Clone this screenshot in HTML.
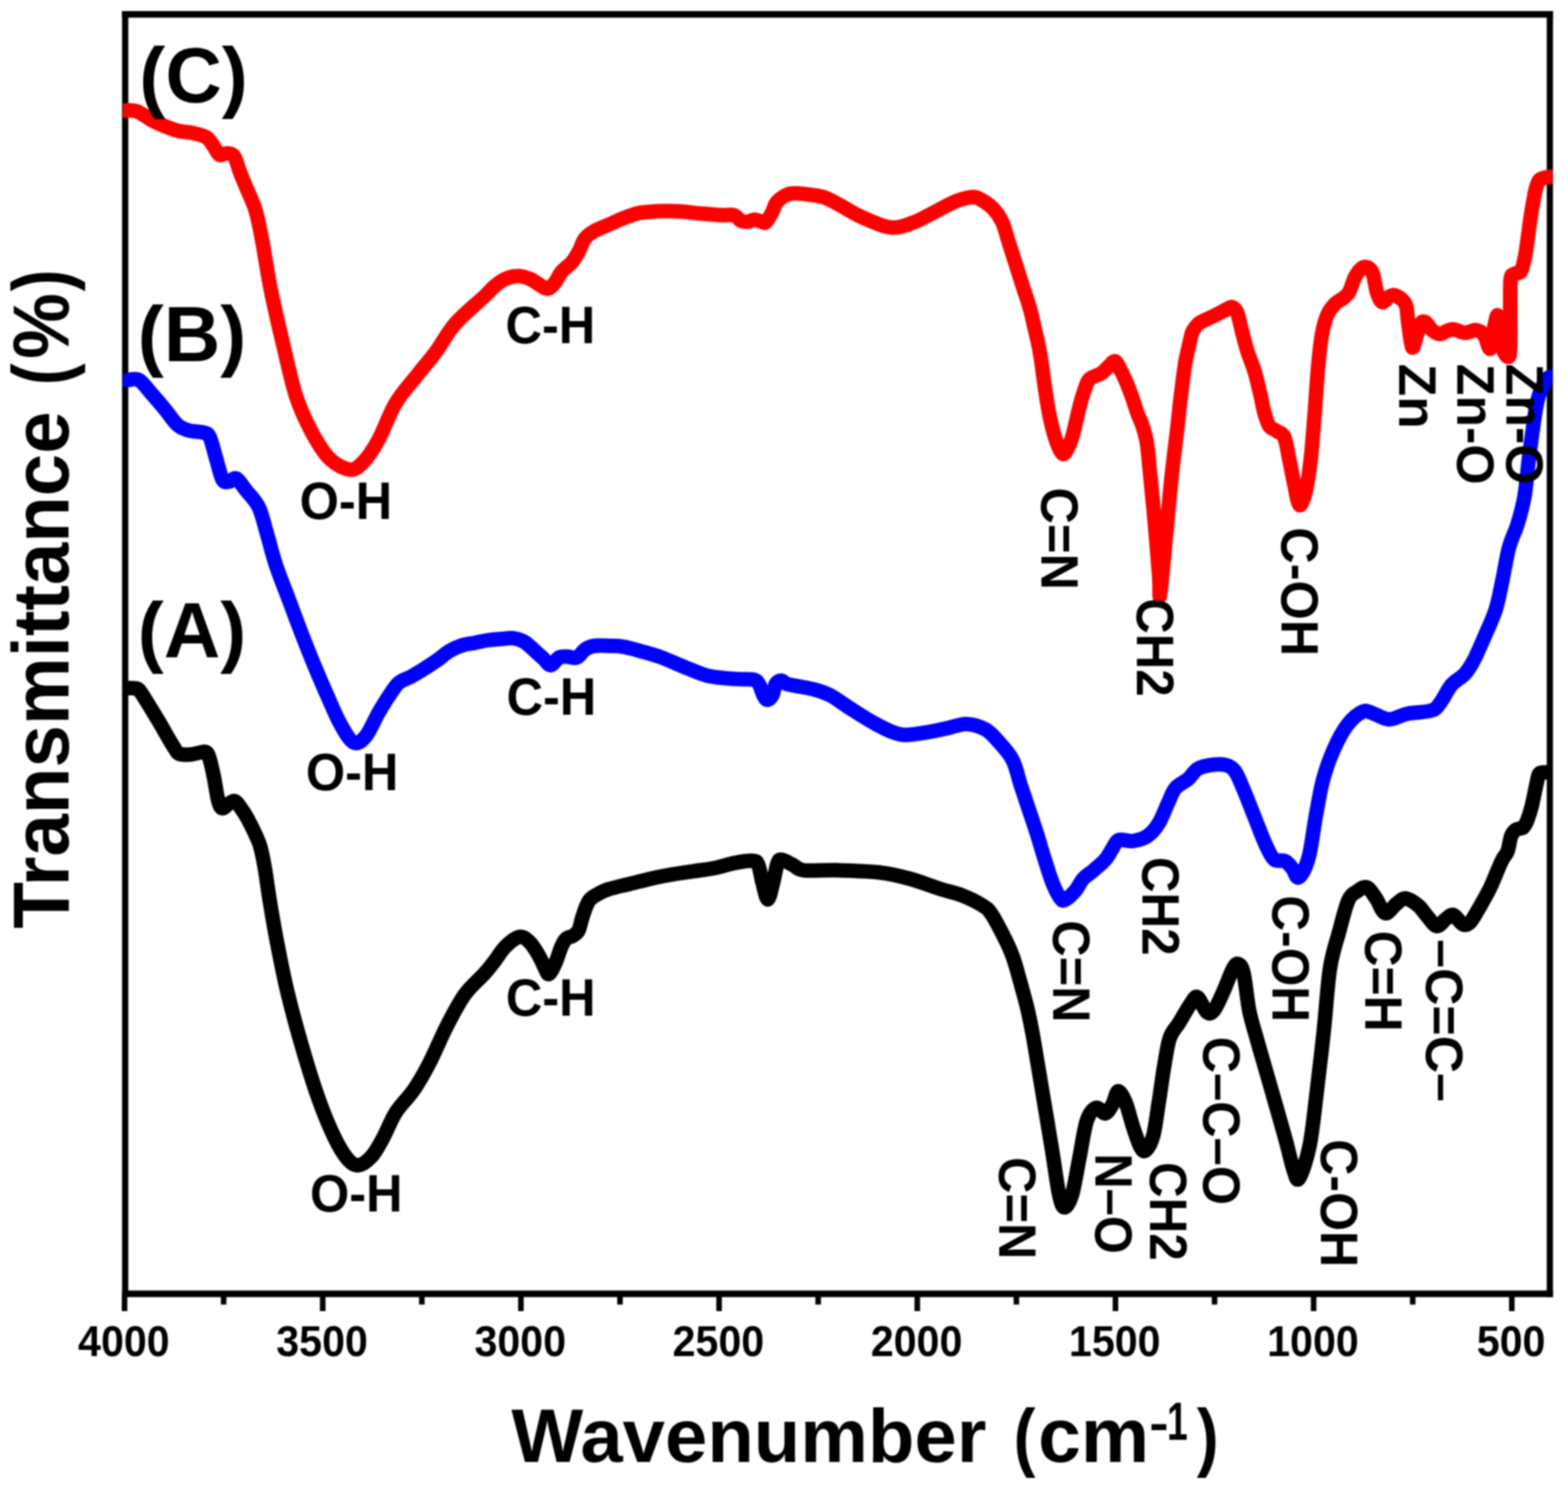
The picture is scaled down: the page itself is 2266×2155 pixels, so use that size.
<!DOCTYPE html><html><head><meta charset="utf-8"><title>FTIR spectra</title><style>html,body{margin:0;padding:0;background:#fff;}body{width:2266px;height:2155px;overflow:hidden;}svg{display:block;filter:blur(0.8px);}text{font-family:"Liberation Sans",Arial,sans-serif;font-weight:bold;fill:#000;}</style></head><body>
<svg xmlns="http://www.w3.org/2000/svg" width="2266" height="2155" viewBox="0 0 2266 2155">
<rect width="2266" height="2155" fill="#fff"/>
<defs><clipPath id="pa"><rect x="177.5" y="20.8" width="2066.0" height="1849.1"/></clipPath></defs>
<g stroke="#000" fill="none"><line x1="176.40" y1="20.80" x2="2244.30" y2="20.80" stroke-width="9.50"/><line x1="176.40" y1="1869.90" x2="2244.30" y2="1869.90" stroke-width="9.50"/><line x1="180.90" y1="16.05" x2="180.90" y2="1874.65" stroke-width="9.00"/><line x1="2239.80" y1="16.05" x2="2239.80" y2="1874.65" stroke-width="9.00"/></g>
<g stroke="#000" stroke-width="8.0"><line x1="180.00" y1="1869.90" x2="180.00" y2="1895.00"/><line x1="323.20" y1="1869.90" x2="323.20" y2="1885.50"/><line x1="466.40" y1="1869.90" x2="466.40" y2="1895.00"/><line x1="609.60" y1="1869.90" x2="609.60" y2="1885.50"/><line x1="752.80" y1="1869.90" x2="752.80" y2="1895.00"/><line x1="896.00" y1="1869.90" x2="896.00" y2="1885.50"/><line x1="1039.20" y1="1869.90" x2="1039.20" y2="1895.00"/><line x1="1182.40" y1="1869.90" x2="1182.40" y2="1885.50"/><line x1="1325.60" y1="1869.90" x2="1325.60" y2="1895.00"/><line x1="1468.80" y1="1869.90" x2="1468.80" y2="1885.50"/><line x1="1612.00" y1="1869.90" x2="1612.00" y2="1895.00"/><line x1="1755.20" y1="1869.90" x2="1755.20" y2="1885.50"/><line x1="1898.40" y1="1869.90" x2="1898.40" y2="1895.00"/><line x1="2041.60" y1="1869.90" x2="2041.60" y2="1885.50"/><line x1="2184.80" y1="1869.90" x2="2184.80" y2="1895.00"/></g>
<g clip-path="url(#pa)" fill="none" stroke-width="21" stroke-linejoin="round" stroke-linecap="round">
<path stroke="#000" d="M178.0,994.6 C181.2,994.7 192.8,994.1 197.0,995.0 C201.2,995.9 200.5,996.8 203.0,1000.0 C205.5,1003.2 209.0,1009.2 212.0,1014.0 C215.0,1018.8 217.8,1023.3 221.0,1028.6 C224.2,1033.9 228.1,1040.1 231.5,1046.0 C234.9,1051.9 238.2,1058.0 241.6,1063.8 C245.0,1069.6 249.1,1076.7 252.0,1081.0 C254.9,1085.3 255.2,1087.9 259.0,1089.5 C262.8,1091.1 269.8,1090.8 275.0,1090.5 C280.2,1090.2 286.2,1088.1 290.0,1087.5 C293.8,1086.9 295.8,1085.4 298.0,1087.0 C300.2,1088.6 301.2,1091.1 303.0,1097.0 C304.8,1102.9 306.9,1112.4 309.0,1122.5 C311.1,1132.6 313.4,1150.1 315.5,1157.7 C317.6,1165.3 318.9,1167.5 321.3,1168.2 C323.7,1168.9 327.1,1163.8 330.0,1162.0 C332.9,1160.2 336.1,1157.0 338.9,1157.7 C341.7,1158.4 343.9,1162.0 347.0,1166.2 C350.1,1170.4 353.8,1175.9 357.7,1183.0 C361.6,1190.1 367.2,1201.6 370.4,1208.8 C373.6,1216.0 374.7,1217.7 376.8,1225.9 C378.9,1234.1 381.1,1245.4 383.2,1257.8 C385.3,1270.2 386.9,1283.8 389.6,1300.5 C392.3,1317.2 395.3,1335.5 399.6,1357.9 C403.9,1380.3 409.2,1408.1 415.6,1434.7 C422.0,1461.3 430.5,1492.2 438.0,1517.8 C445.5,1543.4 452.9,1567.4 460.4,1588.2 C467.8,1609.0 475.8,1628.2 482.7,1642.6 C489.6,1657.0 496.0,1667.7 501.9,1674.6 C507.8,1681.5 512.0,1684.7 517.9,1684.2 C523.8,1683.7 531.2,1677.8 537.1,1671.4 C543.0,1665.0 547.2,1656.5 553.1,1645.8 C559.0,1635.1 564.8,1619.1 572.3,1607.4 C579.8,1595.7 589.9,1587.1 597.9,1575.4 C605.9,1563.7 612.3,1552.5 620.3,1537.0 C628.3,1521.5 637.4,1499.2 645.9,1482.7 C654.4,1466.2 662.4,1450.5 671.4,1437.9 C680.4,1425.3 692.7,1415.5 700.0,1407.3 C707.3,1399.1 710.1,1395.0 715.2,1388.5 C720.3,1382.0 724.5,1373.9 730.4,1368.2 C736.3,1362.5 744.8,1355.2 750.7,1354.2 C756.6,1353.2 761.2,1357.6 765.9,1362.2 C770.6,1366.8 775.7,1376.1 779.1,1381.9 C782.5,1387.7 784.1,1392.7 786.5,1397.0 C788.9,1401.3 790.5,1408.8 793.3,1407.8 C796.0,1406.8 800.0,1397.5 803.0,1391.0 C806.0,1384.5 808.5,1374.7 811.0,1369.0 C813.5,1363.3 815.2,1359.8 818.0,1357.0 C820.8,1354.2 825.0,1354.5 828.0,1352.5 C831.0,1350.5 833.8,1349.1 836.0,1345.0 C838.2,1340.9 839.3,1333.3 841.0,1328.0 C842.7,1322.7 844.2,1317.5 846.0,1313.0 C847.8,1308.5 849.3,1304.1 852.0,1300.8 C854.7,1297.5 857.5,1295.8 862.2,1293.2 C866.9,1290.6 872.0,1287.7 880.0,1285.1 C888.0,1282.5 900.3,1280.0 910.4,1277.5 C920.5,1275.0 930.7,1272.2 940.8,1269.9 C950.9,1267.6 961.1,1265.7 971.2,1263.9 C981.3,1262.1 991.5,1260.8 1001.6,1259.3 C1011.7,1257.8 1021.9,1256.7 1032.0,1254.7 C1042.2,1252.7 1053.1,1248.9 1062.5,1247.1 C1071.9,1245.3 1082.7,1243.6 1088.3,1244.1 C1093.9,1244.6 1093.6,1244.9 1095.9,1250.2 C1098.2,1255.5 1099.7,1267.7 1102.0,1276.0 C1104.3,1284.3 1107.1,1300.0 1109.6,1300.0 C1112.1,1300.0 1114.9,1284.5 1117.2,1276.0 C1119.5,1267.5 1121.3,1254.3 1123.3,1248.7 C1125.3,1243.1 1125.6,1242.3 1129.4,1242.6 C1133.2,1242.8 1140.8,1247.7 1146.1,1250.2 C1151.4,1252.7 1151.0,1256.5 1161.3,1257.8 C1171.6,1259.1 1190.2,1257.3 1208.1,1257.8 C1226.0,1258.3 1251.2,1258.8 1268.9,1260.8 C1286.6,1262.8 1299.3,1265.9 1314.5,1270.0 C1329.7,1274.1 1347.5,1281.2 1360.2,1285.2 C1372.9,1289.2 1380.5,1290.2 1390.6,1294.3 C1400.7,1298.3 1413.9,1304.9 1421.0,1309.5 C1428.1,1314.1 1428.1,1314.1 1433.2,1321.7 C1438.3,1329.3 1446.3,1345.0 1451.4,1355.1 C1456.5,1365.2 1460.0,1372.9 1463.6,1382.5 C1467.1,1392.1 1469.2,1400.2 1472.7,1412.9 C1476.2,1425.6 1481.5,1444.0 1484.9,1458.5 C1488.3,1473.0 1489.7,1479.7 1493.3,1499.9 C1496.9,1520.1 1502.2,1553.2 1506.7,1579.9 C1511.2,1606.6 1516.0,1635.4 1520.0,1659.8 C1524.0,1684.2 1527.5,1712.3 1530.6,1726.5 C1533.7,1740.7 1535.5,1745.1 1538.6,1745.1 C1541.7,1745.1 1545.7,1738.5 1549.3,1726.5 C1552.9,1714.5 1556.5,1691.0 1560.0,1673.2 C1563.5,1655.4 1566.6,1631.9 1570.6,1619.9 C1574.6,1607.9 1579.5,1603.0 1583.9,1601.2 C1588.4,1599.4 1593.3,1610.1 1597.3,1609.2 C1601.3,1608.3 1604.8,1601.2 1607.9,1595.9 C1611.0,1590.6 1612.8,1577.7 1615.9,1577.2 C1619.0,1576.8 1623.0,1584.8 1626.6,1593.2 C1630.1,1601.7 1633.7,1617.2 1637.2,1627.9 C1640.8,1638.6 1644.8,1651.4 1647.9,1657.2 C1651.0,1663.0 1652.8,1665.2 1655.9,1662.5 C1659.0,1659.8 1663.5,1652.8 1666.6,1641.2 C1669.7,1629.7 1671.9,1610.1 1674.6,1593.2 C1677.3,1576.3 1679.9,1555.5 1682.6,1539.9 C1685.3,1524.4 1687.0,1510.1 1690.6,1499.9 C1694.1,1489.7 1699.0,1486.6 1703.9,1478.6 C1708.8,1470.6 1715.5,1458.2 1719.9,1452.0 C1724.3,1445.8 1726.5,1439.5 1730.5,1441.3 C1734.5,1443.1 1739.9,1459.5 1743.9,1462.6 C1747.9,1465.7 1750.5,1464.9 1754.5,1460.0 C1758.5,1455.1 1763.5,1443.1 1767.9,1433.3 C1772.4,1423.5 1777.7,1408.0 1781.2,1401.3 C1784.8,1394.6 1786.5,1392.4 1789.2,1393.3 C1791.9,1394.2 1794.5,1395.6 1797.2,1406.7 C1799.9,1417.8 1802.1,1444.5 1805.2,1460.0 C1808.3,1475.5 1811.5,1484.3 1815.8,1499.9 C1820.1,1515.5 1824.4,1529.6 1831.2,1553.5 C1838.0,1577.4 1850.5,1620.3 1856.8,1643.1 C1863.1,1665.8 1865.6,1680.0 1869.1,1690.0 C1872.5,1700.0 1873.6,1708.7 1877.5,1703.0 C1881.4,1697.3 1888.4,1676.6 1892.6,1655.9 C1896.8,1635.2 1899.4,1606.8 1902.8,1579.1 C1906.2,1551.4 1909.9,1519.5 1913.1,1489.6 C1916.3,1459.7 1918.3,1423.6 1922.0,1399.8 C1925.7,1376.0 1930.9,1362.9 1935.3,1346.5 C1939.7,1330.1 1944.2,1311.0 1948.6,1301.2 C1953.0,1291.4 1957.5,1291.0 1961.9,1287.9 C1966.4,1284.8 1970.8,1280.8 1975.3,1282.6 C1979.8,1284.4 1984.2,1292.3 1988.6,1298.5 C1993.0,1304.7 1997.0,1318.6 2001.9,1319.9 C2006.8,1321.2 2013.0,1310.1 2017.9,1306.5 C2022.8,1302.9 2025.9,1298.0 2031.2,1298.5 C2036.5,1299.0 2044.6,1304.8 2049.9,1309.2 C2055.2,1313.7 2058.8,1320.3 2063.2,1325.2 C2067.6,1330.1 2072.1,1338.0 2076.5,1338.5 C2080.9,1339.0 2085.9,1330.6 2089.9,1327.9 C2093.9,1325.2 2096.5,1321.2 2100.5,1322.5 C2104.5,1323.8 2109.9,1334.1 2113.9,1335.9 C2117.9,1337.7 2120.5,1337.2 2124.5,1333.2 C2128.5,1329.2 2132.9,1320.3 2137.8,1311.9 C2142.7,1303.5 2148.5,1293.7 2153.8,1282.6 C2159.1,1271.5 2165.7,1253.8 2169.8,1245.2 C2173.9,1236.6 2176.1,1236.9 2178.5,1230.7 C2180.9,1224.5 2181.9,1213.3 2184.0,1208.0 C2186.1,1202.7 2188.2,1201.0 2191.0,1199.0 C2193.8,1197.0 2198.3,1198.2 2201.0,1196.0 C2203.7,1193.8 2205.0,1190.9 2207.0,1186.0 C2209.0,1181.1 2211.0,1175.2 2213.2,1166.7 C2215.4,1158.2 2218.3,1142.7 2220.1,1134.7 C2221.9,1126.8 2222.3,1122.0 2224.0,1119.0 C2225.7,1116.0 2226.3,1116.9 2230.0,1116.5 C2233.7,1116.1 2243.3,1116.5 2246.0,1116.5"/>
<path stroke="#0000ff" d="M183.9,549.4 C186.7,549.4 195.0,546.0 200.9,549.4 C206.8,552.8 213.3,562.5 219.5,569.5 C225.7,576.5 231.8,583.6 238.0,591.1 C244.2,598.6 250.9,609.1 256.6,614.3 C262.3,619.4 265.8,620.2 272.0,622.0 C278.2,623.8 288.6,623.6 293.7,625.1 C298.8,626.6 299.8,625.1 302.9,631.3 C306.0,637.5 309.1,651.9 312.2,662.2 C315.3,672.5 318.4,687.4 321.5,693.1 C324.6,698.8 327.4,696.5 330.8,696.2 C334.2,696.0 337.5,689.5 341.6,691.6 C345.7,693.7 350.1,701.7 355.5,708.6 C360.9,715.5 368.9,722.5 374.0,733.3 C379.1,744.1 382.3,759.6 386.4,773.5 C390.5,787.4 393.6,801.3 398.8,816.8 C404.0,832.3 411.1,849.8 417.3,866.3 C423.5,882.8 429.7,899.7 435.9,915.7 C442.1,931.7 448.2,947.2 454.4,962.1 C460.6,977.0 466.8,991.5 473.0,1005.4 C479.2,1019.3 485.2,1034.3 491.5,1045.6 C497.8,1056.9 504.8,1069.9 511.0,1073.0 C517.2,1076.1 522.6,1071.2 528.6,1064.1 C534.6,1056.9 541.5,1040.0 547.2,1030.1 C552.9,1020.2 557.9,1012.1 562.8,1004.9 C567.7,997.7 571.2,991.2 576.5,986.7 C581.8,982.2 588.6,981.0 594.7,977.6 C600.8,974.2 606.9,970.4 613.0,966.6 C619.1,962.8 625.1,959.0 631.2,954.7 C637.3,950.5 643.4,944.8 649.5,941.1 C655.6,937.5 661.6,934.8 667.7,932.8 C673.8,930.8 679.9,930.4 686.0,929.2 C692.1,928.0 697.8,926.5 704.2,925.5 C710.6,924.5 718.4,924.0 724.6,923.5 C730.8,923.0 735.7,921.6 741.3,922.3 C746.9,923.0 752.5,924.5 758.1,927.9 C763.7,931.2 770.2,938.3 774.8,942.4 C779.4,946.5 782.4,949.2 785.9,952.4 C789.4,955.6 792.3,961.8 796.0,961.4 C799.7,961.0 804.3,952.2 808.2,950.2 C812.1,948.2 815.1,949.1 819.4,949.1 C823.7,949.1 829.6,951.9 833.9,950.2 C838.2,948.5 840.9,941.9 845.0,939.1 C849.1,936.3 852.4,934.4 858.4,933.5 C864.4,932.6 873.8,933.3 880.7,933.5 C887.6,933.7 892.6,933.4 900.0,934.6 C907.4,935.8 915.8,938.2 925.0,940.8 C934.2,943.4 944.2,945.9 955.4,950.0 C966.5,954.1 980.2,960.7 991.9,965.2 C1003.5,969.8 1013.2,974.6 1025.3,977.3 C1037.4,980.0 1053.7,980.6 1064.3,981.4 C1074.9,982.2 1083.3,981.0 1088.7,982.2 C1094.1,983.4 1094.4,984.9 1096.8,988.7 C1099.2,992.5 1101.3,1001.1 1103.3,1004.9 C1105.3,1008.7 1106.8,1011.4 1108.9,1011.4 C1111.1,1011.4 1114.2,1008.7 1116.2,1004.9 C1118.2,1001.1 1118.9,992.2 1121.1,988.7 C1123.3,985.2 1126.5,983.8 1129.2,983.8 C1131.9,983.8 1133.2,987.4 1137.3,988.7 C1141.3,990.1 1146.7,990.5 1153.5,991.9 C1160.3,993.2 1170.2,994.6 1177.9,996.8 C1185.7,999.0 1192.0,1000.8 1200.0,1005.0 C1208.0,1009.2 1215.1,1015.2 1226.0,1022.1 C1236.9,1029.0 1252.9,1039.8 1265.6,1046.4 C1278.3,1053.0 1289.9,1059.7 1302.1,1061.7 C1314.3,1063.7 1327.4,1060.1 1338.6,1058.6 C1349.8,1057.1 1359.4,1054.5 1369.0,1052.5 C1378.6,1050.5 1387.3,1046.2 1396.4,1046.4 C1405.5,1046.7 1416.1,1049.9 1423.7,1054.0 C1431.3,1058.1 1435.4,1063.4 1442.0,1070.8 C1448.6,1078.2 1457.8,1087.5 1463.3,1098.2 C1468.8,1108.9 1471.2,1123.2 1475.2,1135.2 C1479.2,1147.2 1483.1,1158.7 1487.0,1170.4 C1490.9,1182.1 1495.0,1193.8 1498.7,1205.5 C1502.4,1217.2 1505.6,1229.0 1509.3,1240.7 C1513.0,1252.4 1517.2,1266.4 1521.0,1275.9 C1524.8,1285.5 1529.2,1293.9 1532.2,1298.0 C1535.2,1302.1 1535.6,1302.2 1539.2,1300.5 C1542.8,1298.8 1549.4,1292.7 1553.8,1287.6 C1558.2,1282.5 1561.1,1274.9 1565.5,1270.0 C1569.9,1265.1 1574.6,1263.0 1580.0,1258.3 C1585.4,1253.6 1593.1,1247.4 1597.9,1241.8 C1602.7,1236.2 1605.4,1229.4 1608.6,1224.8 C1611.8,1220.2 1612.2,1215.6 1617.1,1214.1 C1622.0,1212.5 1631.1,1216.6 1638.1,1215.5 C1645.1,1214.4 1653.0,1212.0 1659.2,1207.6 C1665.4,1203.2 1670.2,1197.1 1675.0,1189.2 C1679.8,1181.3 1684.2,1168.6 1688.2,1160.2 C1692.2,1151.8 1694.0,1144.8 1698.8,1139.1 C1703.6,1133.4 1711.5,1130.7 1717.2,1125.9 C1722.9,1121.1 1725.1,1113.6 1733.0,1110.1 C1740.9,1106.6 1756.4,1104.4 1764.7,1104.8 C1773.0,1105.2 1777.8,1107.0 1783.1,1112.7 C1788.4,1118.4 1791.5,1128.1 1796.3,1139.1 C1801.1,1150.1 1806.8,1165.4 1812.1,1178.6 C1817.4,1191.8 1823.1,1207.5 1827.9,1218.1 C1832.7,1228.6 1836.3,1237.5 1841.1,1241.9 C1845.9,1246.3 1852.5,1242.3 1856.9,1244.5 C1861.3,1246.7 1864.2,1251.1 1867.5,1255.0 C1870.8,1258.9 1873.0,1270.6 1877.0,1268.0 C1881.0,1265.4 1887.1,1254.1 1891.2,1239.2 C1895.3,1224.3 1898.2,1197.5 1901.7,1178.6 C1905.2,1159.7 1907.9,1142.0 1912.3,1125.9 C1916.7,1109.8 1922.2,1095.0 1928.0,1082.0 C1933.8,1069.0 1940.3,1056.6 1947.2,1047.7 C1954.1,1038.8 1963.2,1031.2 1969.6,1028.5 C1976.0,1025.8 1979.1,1029.8 1985.5,1031.7 C1991.9,1033.6 1999.9,1039.7 2007.9,1039.7 C2015.9,1039.7 2023.4,1033.8 2033.5,1031.7 C2043.6,1029.6 2060.7,1029.6 2068.7,1026.9 C2076.7,1024.2 2076.7,1021.8 2081.5,1015.7 C2086.3,1009.6 2091.6,997.0 2097.5,990.1 C2103.4,983.2 2111.4,980.1 2116.7,974.2 C2122.0,968.4 2124.7,964.1 2129.5,955.0 C2134.3,945.9 2140.2,932.1 2145.5,919.8 C2150.8,907.5 2157.2,894.7 2161.4,881.4 C2165.7,868.1 2167.8,854.7 2171.0,839.8 C2174.2,824.9 2176.9,805.8 2180.6,791.9 C2184.3,778.0 2189.7,769.0 2193.4,756.7 C2197.1,744.4 2200.3,733.8 2203.0,718.3 C2205.7,702.8 2207.3,681.0 2209.4,663.9 C2211.5,646.8 2213.7,630.3 2215.8,615.9 C2217.9,601.5 2219.5,588.2 2222.2,577.6 C2224.9,567.0 2229.1,557.3 2231.8,552.0 C2234.5,546.7 2235.8,546.9 2238.2,545.6 C2240.6,544.3 2244.7,544.3 2246.0,544.0"/>
<path stroke="#ff0000" d="M179.6,159.9 C182.6,160.1 190.4,158.2 197.7,160.9 C205.0,163.6 213.7,171.2 223.3,175.8 C232.9,180.4 246.4,185.9 255.3,188.6 C264.2,191.3 269.5,190.2 276.6,191.8 C283.7,193.4 292.6,195.0 297.9,198.2 C303.2,201.4 305.4,206.7 308.6,211.0 C311.8,215.3 313.9,222.0 317.1,223.8 C320.3,225.6 324.2,221.3 327.8,221.7 C331.4,222.1 335.2,221.4 338.4,226.0 C341.6,230.6 343.8,241.2 347.0,249.4 C350.2,257.6 354.1,266.5 357.6,275.0 C361.2,283.5 365.5,292.1 368.3,300.6 C371.1,309.1 372.8,317.3 374.7,326.2 C376.6,335.1 378.2,343.9 380.0,353.9 C381.8,363.8 383.3,373.9 385.4,385.9 C387.5,397.9 388.9,407.6 392.8,426.0 C396.7,444.4 402.9,471.8 408.8,496.3 C414.7,520.8 421.1,551.7 428.0,573.0 C434.9,594.3 442.4,609.3 450.4,624.2 C458.4,639.1 466.9,653.5 476.0,662.6 C485.1,671.7 496.7,677.5 504.7,678.6 C512.7,679.7 517.0,675.9 523.9,669.0 C530.8,662.1 538.3,651.4 546.3,637.0 C554.3,622.6 562.3,598.7 571.9,582.7 C581.5,566.7 594.3,553.3 603.9,541.0 C613.5,528.7 620.5,521.2 629.5,509.0 C638.5,496.8 646.5,480.9 658.2,467.5 C670.0,454.1 690.5,437.5 700.0,428.5 C709.5,419.5 710.1,417.5 715.2,413.3 C720.3,409.1 724.8,405.5 730.4,403.1 C736.0,400.7 742.8,399.1 748.7,399.1 C754.6,399.1 760.8,401.1 765.9,403.1 C771.0,405.1 774.9,408.8 779.1,411.2 C783.3,413.6 787.5,417.6 791.2,417.3 C794.9,417.0 798.0,413.2 801.4,409.2 C804.8,405.1 807.3,398.1 811.5,393.0 C815.7,387.9 822.5,383.9 826.7,378.8 C830.9,373.7 833.9,368.2 836.9,362.6 C839.9,357.0 841.5,350.0 845.0,345.3 C848.5,340.6 852.1,338.0 858.0,334.5 C863.9,331.0 873.2,327.6 880.3,324.5 C887.4,321.4 893.8,318.3 900.5,315.6 C907.2,312.9 914.0,310.1 920.8,308.5 C927.6,306.9 934.3,306.6 941.1,306.0 C947.9,305.4 954.6,305.1 961.4,305.0 C968.1,304.9 973.2,304.9 981.6,305.5 C990.0,306.1 1001.9,307.6 1012.0,308.5 C1022.1,309.4 1034.4,310.6 1042.5,311.0 C1050.6,311.4 1055.8,309.7 1060.5,311.0 C1065.2,312.3 1067.3,317.4 1070.7,319.0 C1074.1,320.6 1077.4,320.8 1080.8,320.5 C1084.2,320.2 1087.6,317.5 1091.0,317.5 C1094.4,317.5 1098.3,319.9 1101.0,320.5 C1103.7,321.1 1104.5,323.4 1107.0,321.0 C1109.5,318.6 1113.9,310.6 1116.3,306.0 C1118.7,301.4 1118.9,297.3 1121.4,293.7 C1123.9,290.1 1128.1,286.9 1131.5,284.6 C1134.9,282.3 1138.2,280.9 1141.6,280.0 C1145.0,279.1 1146.7,279.2 1151.8,279.5 C1156.9,279.8 1165.2,280.6 1172.0,281.6 C1178.8,282.6 1185.5,283.2 1192.3,285.6 C1199.1,288.0 1203.8,291.1 1212.6,295.8 C1221.4,300.5 1232.5,308.1 1245.0,313.6 C1257.5,319.1 1274.8,327.5 1287.5,328.8 C1300.2,330.1 1310.3,325.0 1321.0,321.2 C1331.7,317.4 1341.3,311.1 1351.4,306.0 C1361.5,300.9 1372.7,294.4 1381.8,290.8 C1390.9,287.2 1400.0,284.9 1406.2,284.7 C1412.4,284.5 1414.3,286.5 1419.2,289.4 C1424.1,292.3 1430.9,296.9 1435.8,302.2 C1440.7,307.5 1445.0,313.5 1448.6,321.4 C1452.2,329.3 1454.4,339.5 1457.6,349.5 C1460.8,359.5 1464.4,370.8 1467.8,381.5 C1471.2,392.2 1474.6,402.8 1478.0,413.5 C1481.4,424.2 1485.3,434.8 1488.3,445.5 C1491.3,456.2 1493.8,468.4 1495.9,477.5 C1498.0,486.6 1499.6,492.5 1501.1,500.0 C1502.6,507.5 1503.3,511.7 1504.9,522.6 C1506.5,533.5 1508.6,551.1 1510.8,565.3 C1513.0,579.5 1515.5,595.5 1518.3,607.9 C1521.0,620.3 1524.4,631.9 1527.3,639.9 C1530.2,647.9 1533.2,654.6 1535.8,656.0 C1538.4,657.4 1540.6,652.5 1543.0,648.0 C1545.4,643.5 1547.3,639.5 1550.2,629.3 C1553.1,619.1 1557.6,597.3 1560.4,586.6 C1563.2,575.9 1564.5,571.7 1566.8,565.3 C1569.1,558.9 1570.1,552.5 1574.2,548.2 C1578.3,543.9 1586.7,542.7 1591.3,539.7 C1595.9,536.7 1598.5,533.0 1601.9,530.1 C1605.3,527.2 1608.5,521.1 1611.5,522.1 C1614.5,523.1 1617.2,530.9 1620.0,536.0 C1622.8,541.1 1625.3,546.7 1628.0,553.0 C1630.7,559.3 1633.3,566.5 1636.0,574.0 C1638.7,581.5 1641.5,591.2 1644.0,598.0 C1646.5,604.8 1648.8,608.0 1651.0,615.0 C1653.2,622.0 1655.6,629.2 1657.4,640.0 C1659.2,650.8 1659.7,661.1 1661.6,680.0 C1663.5,698.9 1666.3,727.6 1668.6,753.1 C1670.9,778.6 1673.9,815.3 1675.2,833.1 C1676.5,850.9 1675.0,868.6 1676.5,859.7 C1678.0,850.8 1681.8,808.1 1684.5,779.8 C1687.2,751.5 1690.2,716.6 1693.0,690.0 C1695.8,663.4 1699.2,638.4 1701.3,620.0 C1703.4,601.6 1703.7,595.5 1705.6,579.9 C1707.5,564.3 1710.2,540.8 1712.5,526.6 C1714.8,512.4 1717.7,502.4 1719.4,494.6 C1721.2,486.8 1721.2,484.1 1723.0,480.0 C1724.8,475.9 1727.8,472.4 1730.0,470.0 C1732.2,467.6 1731.5,467.8 1736.0,465.3 C1740.5,462.8 1751.1,458.3 1757.3,455.2 C1763.5,452.1 1769.4,448.6 1773.3,446.7 C1777.2,444.8 1778.2,443.1 1780.7,444.0 C1783.2,444.9 1785.9,447.1 1788.0,452.0 C1790.1,456.9 1791.2,464.4 1793.5,473.3 C1795.8,482.2 1798.7,494.6 1802.0,505.3 C1805.3,516.0 1810.0,526.6 1813.2,537.3 C1816.4,548.0 1818.8,559.2 1821.2,569.3 C1823.6,579.4 1825.4,590.3 1827.6,598.0 C1829.8,605.7 1831.4,611.5 1834.3,615.7 C1837.2,619.9 1841.6,620.3 1845.2,623.0 C1848.8,625.7 1853.1,625.0 1856.1,632.0 C1859.1,639.0 1860.9,653.2 1863.3,664.7 C1865.7,676.2 1868.1,690.0 1870.6,700.9 C1873.0,711.8 1875.3,728.5 1878.0,730.0 C1880.7,731.5 1884.2,720.9 1886.9,710.0 C1889.6,699.1 1892.0,682.8 1894.1,664.7 C1896.2,646.6 1897.8,623.9 1899.6,601.2 C1901.4,578.5 1903.2,548.3 1905.0,528.7 C1906.8,509.1 1908.3,495.5 1910.4,483.4 C1912.5,471.3 1914.7,463.4 1917.7,456.2 C1920.7,448.9 1924.7,444.1 1928.6,439.9 C1932.5,435.7 1937.7,433.8 1941.2,430.9 C1944.7,428.0 1946.6,427.8 1949.6,422.4 C1952.6,417.0 1955.5,404.5 1959.2,398.4 C1962.9,392.3 1967.7,386.7 1971.7,385.9 C1975.7,385.1 1980.2,387.5 1983.2,393.6 C1986.2,399.7 1987.5,415.2 1989.9,422.4 C1992.3,429.6 1994.7,435.7 1997.6,436.8 C2000.5,437.9 2004.0,430.7 2007.2,429.1 C2010.4,427.5 2012.8,425.4 2016.8,427.2 C2020.8,429.0 2028.2,433.3 2031.2,439.7 C2034.2,446.1 2033.4,455.2 2035.0,465.6 C2036.6,476.0 2038.7,498.8 2040.8,502.0 C2042.9,505.2 2045.4,490.6 2047.5,484.8 C2049.6,479.1 2051.1,470.7 2053.2,467.5 C2055.3,464.3 2057.3,464.0 2060.0,465.6 C2062.7,467.2 2066.1,474.2 2069.6,477.1 C2073.1,480.0 2077.4,482.7 2081.1,482.8 C2084.8,482.9 2088.2,479.1 2091.6,478.0 C2094.9,476.9 2096.9,475.6 2101.2,476.1 C2105.5,476.6 2111.9,480.7 2117.3,480.9 C2122.7,481.1 2129.0,476.5 2133.6,477.1 C2138.2,477.8 2141.8,480.3 2145.1,484.8 C2148.4,489.3 2151.2,506.5 2153.7,504.0 C2156.2,501.5 2158.1,477.8 2160.0,470.0 C2161.9,462.2 2163.3,452.0 2165.0,457.0 C2166.7,462.0 2167.2,490.6 2170.0,500.0 C2172.8,509.4 2179.5,520.9 2181.6,513.6 C2183.7,506.3 2182.3,474.1 2182.5,456.0 C2182.7,437.9 2182.1,415.0 2183.0,405.0 C2183.9,395.0 2185.6,398.1 2188.0,396.0 C2190.4,393.9 2195.0,396.2 2197.5,392.7 C2200.0,389.2 2201.5,381.4 2203.0,375.0 C2204.5,368.6 2205.1,364.2 2206.5,354.4 C2207.9,344.6 2210.1,326.7 2211.7,316.0 C2213.3,305.3 2214.8,296.8 2216.0,290.0 C2217.2,283.2 2217.7,279.8 2219.0,275.0 C2220.3,270.2 2221.8,264.0 2224.0,261.0 C2226.2,258.0 2228.3,258.0 2232.0,257.0 C2235.7,256.0 2243.7,255.3 2246.0,255.0"/>
</g>
<g><text transform="translate(433.0,750.0) scale(1,1.040)" font-size="73.0">O-H</text><text transform="translate(730.5,496.0) scale(1,1.040)" font-size="73.0">C-H</text><text transform="translate(442.0,1142.0) scale(1,1.040)" font-size="73.0">O-H</text><text transform="translate(732.0,1033.0) scale(1,1.040)" font-size="73.0">C-H</text><text transform="translate(448.0,1751.0) scale(1,1.040)" font-size="73.0">O-H</text><text transform="translate(731.0,1468.0) scale(1,1.040)" font-size="73.0">C-H</text><text transform="translate(1504.5,704.6) rotate(90) scale(1,1.040)" font-size="73.0">C=N</text><text transform="translate(1643.0,864.6) rotate(90) scale(1,1.068)" font-size="71.1">CH2</text><text transform="translate(1851.5,762.0) rotate(90) scale(1,1.040)" font-size="73.0">C-OH</text><text transform="translate(2021.5,525.7) rotate(90) scale(1,0.986)" font-size="77.0">Zn</text><text transform="translate(2106.3,525.8) rotate(90) scale(1,1.014)" font-size="74.9">Zn-O</text><text transform="translate(2177.0,525.8) rotate(90) scale(1,1.015)" font-size="74.8">Zn-O</text><text transform="translate(1521.5,1330.0) rotate(90) scale(1,1.040)" font-size="73.0">C=N</text><text transform="translate(1651.0,1238.5) rotate(90) scale(1,1.065)" font-size="71.3">CH2</text><text transform="translate(1839.0,1294.1) rotate(90) scale(1,1.059)" font-size="71.7">C-OH</text><text transform="translate(1444.0,1672.2) rotate(90) scale(1,1.040)" font-size="73.0">C=N</text><text transform="translate(1583.0,1667.1) rotate(90) scale(1,1.075)" font-size="70.6">N–O</text><text transform="translate(1661.8,1679.6) rotate(90) scale(1,1.065)" font-size="71.3">CH2</text><text transform="translate(1739.0,1498.3) rotate(90) scale(1,1.040)" font-size="73.0">C–C–O</text><text transform="translate(1908.7,1646.5) rotate(90) scale(1,1.049)" font-size="72.4">C-OH</text><text transform="translate(1973.0,1344.9) rotate(90) scale(1,1.054)" font-size="72.0">C=H</text><text transform="translate(2061.0,1357.6) rotate(90) scale(1,1.015)" font-size="74.8">–C=C–</text></g>
<text transform="translate(179.0,1960) scale(1,1.05)" font-size="59.5" text-anchor="middle">4000</text><text transform="translate(465.4,1960) scale(1,1.05)" font-size="59.5" text-anchor="middle">3500</text><text transform="translate(751.8,1960) scale(1,1.05)" font-size="59.5" text-anchor="middle">3000</text><text transform="translate(1038.2,1960) scale(1,1.05)" font-size="59.5" text-anchor="middle">2500</text><text transform="translate(1324.6,1960) scale(1,1.05)" font-size="59.5" text-anchor="middle">2000</text><text transform="translate(1611.0,1960) scale(1,1.05)" font-size="59.5" text-anchor="middle">1500</text><text transform="translate(1897.4,1960) scale(1,1.05)" font-size="59.5" text-anchor="middle">1000</text><text transform="translate(2183.8,1960) scale(1,1.05)" font-size="59.5" text-anchor="middle">500</text>
<text x="201.3" y="148.0" font-size="113">(C)</text>
<text x="199.0" y="522.0" font-size="113">(B)</text>
<text x="199.0" y="949.5" font-size="113">(A)</text>
<text transform="translate(98.50,1342.24) rotate(-90) scale(1.000,1.040)" font-size="110.3">Transmittance</text>
<text transform="translate(98.50,556.72) rotate(-90) scale(0.860,1.040)" font-size="110.3">(</text>
<text transform="translate(98.50,518.66) rotate(-90) scale(0.968,1.040)" font-size="110.3">%</text>
<text transform="translate(98.50,421.09) rotate(-90) scale(0.860,1.040)" font-size="110.3">)</text>
<text transform="translate(738.89,2113.00) scale(1.000,1.000)" font-size="110.0">Wavenumber</text>
<text transform="translate(1464.76,2113.00) scale(0.865,1.000)" font-size="110.0">(</text>
<text transform="translate(1500.26,2113.00) scale(1.000,1.000)" font-size="111.0">cm</text>
<text transform="translate(1660.69,2081.20) scale(1.210,1.040)" font-size="70.0">-</text>
<text transform="translate(1686.50,2080.70) scale(0.770,1.100)" font-size="70.0">1</text>
<text transform="translate(1729.41,2113.00) scale(0.865,1.000)" font-size="110.0">)</text>
</svg></body></html>
